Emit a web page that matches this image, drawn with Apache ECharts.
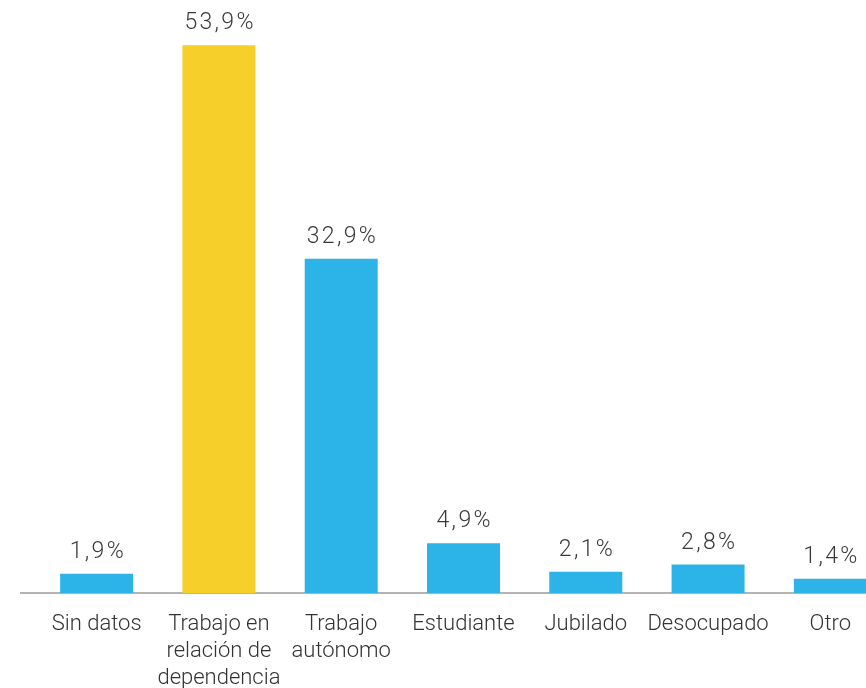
<!DOCTYPE html>
<html>
<head>
<meta charset="utf-8">
<script src="https://cdn.jsdelivr.net/npm/echarts@6/dist/echarts.min.js"></script>
<style>
  html, body { margin: 0; padding: 0; background: #fff; overflow: hidden; }
  /* wider than the window so the last bar gets cut at the right edge */
  #main { width: 900px; height: 688px; }
</style>
</head>
<body>
<div id="main"></div>
<script>
const categories = ['Sin datos', 'Trabajo en relación de dependencia', 'Trabajo autónomo', 'Estudiante', 'Jubilado', 'Desocupado', 'Otro'];
const tickLabels = ['Sin datos', 'Trabajo en\nrelación de\ndependencia', 'Trabajo\nautónomo', 'Estudiante', 'Jubilado', 'Desocupado', 'Otro'];
const values = [1.9, 53.9, 32.9, 4.9, 2.1, 2.8, 1.4];
const highlight = 1; // yellow bar

const blue = '#2cb3e8';
const yellow = '#f6cf2b';

const chart = echarts.init(document.getElementById('main'));

const option = {
  animation: false,
  grid: { left: 35.5, right: 8.5, top: 30, bottom: 95, containLabel: false, outerBoundsMode: 'none' },
  xAxis: {
    type: 'category',
    data: categories,
    axisLine: { show: false },
    axisTick: { show: false },
    axisLabel: {
      interval: 0,
      margin: 18,
      color: '#333',
      fontFamily: 'Roboto',
      fontWeight: 300,
      fontSize: 22,
      lineHeight: 27,
      formatter: (v, i) => tickLabels[i]
    }
  },
  yAxis: {
    type: 'value',
    min: 0,
    max: 55.4,
    show: false
  },
  series: [{
    type: 'bar',
    barWidth: 73,
    data: values.map((v, i) => ({
      value: v,
      itemStyle: { color: i === highlight ? yellow : blue }
    })),
    label: {
      show: true,
      position: 'top',
      distance: 10,
      color: '#3a3a3a',
      fontFamily: 'Roboto',
      fontWeight: 300,
      fontSize: 23,
      formatter: p => p.value.toFixed(1).replace('.', ',').split('').join('\u200a') + '\u200a%'
    }
  }]
};

chart.setOption(option);

// baseline extends a little left of the first category
const y0 = chart.convertToPixel({ yAxisIndex: 0 }, 0);
chart.setOption({
  graphic: [{
    type: 'line',
    shape: { x1: 20, y1: y0, x2: 900, y2: y0 },
    style: { stroke: '#9a9a9a', lineWidth: 1.5 },
    z: 1
  }]
});
</script>
</body>
</html>
